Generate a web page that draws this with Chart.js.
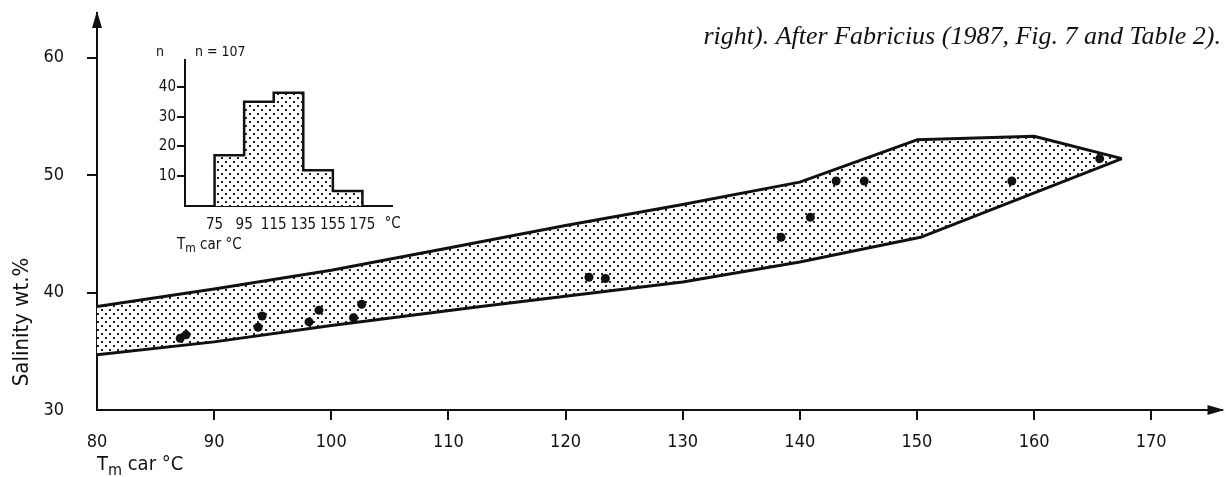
<!DOCTYPE html>
<html>
<head>
<meta charset="utf-8">
<script src="https://cdn.jsdelivr.net/npm/chart.js@4.4.1/dist/chart.umd.min.js"></script>
<style>
  body { margin: 0; background: #fff; }
  #wrap { position: relative; width: 1226px; height: 477px; }
  #main { position: absolute; left: 0; top: 0; }
  #inset { position: absolute; left: 120px; top: 40px; }
</style>
</head>
<body>
<div id="wrap">
  <canvas id="main" width="1226" height="477"></canvas>
  <canvas id="inset" width="290" height="215"></canvas>
</div>
<script>
// main plot: salinity vs Tm car
const xTicks = [80, 90, 100, 110, 120, 130, 140, 150, 160, 170];
const yTicks = [30, 40, 50, 60];

// outline of the stippled field
const upperT = [80, 90, 100, 110, 120, 130, 140, 150, 160, 167.5];
const upperS = [38.8, 40.3, 41.9, 43.8, 45.7, 47.5, 49.4, 53.0, 53.3, 51.4];
const lowerT = [80, 90, 100, 112.6, 130, 140, 150.3, 167.5];
const lowerS = [34.7, 35.8, 37.2, 38.8, 40.9, 42.6, 44.7, 51.4];

// measured inclusions
const sampleT = [87.1, 87.6, 93.75, 94.1, 98.1, 98.95, 101.9, 102.6, 122.0, 123.4, 138.4, 140.9, 143.1, 145.5, 158.1, 165.6];
const sampleS = [36.1, 36.4, 37.05, 38.0, 37.5, 38.5, 37.85, 39.0, 41.3, 41.2, 44.7, 46.4, 49.5, 49.5, 49.5, 51.4];

// inset histogram
const binEdges = [75, 95, 115, 135, 155, 175];
const binCounts = [17, 35, 38, 12, 5];
const insetTicksY = [10, 20, 30, 40];

const FONT = "'DejaVu Sans Condensed', 'DejaVu Sans', sans-serif";
const ink = '#111';

function dots() {
    const c = document.createElement('canvas');
    c.width = 8; c.height = 8;
    const g = c.getContext('2d');
    g.fillStyle = '#fff';
    g.fillRect(0, 0, 8, 8);
    g.fillStyle = '#222';
    g.fillRect(1, 1, 2, 2);
    g.fillRect(5, 5, 2, 2);
    return g.createPattern(c, 'repeat');
}

function pts(xs, ys) {
    return xs.map((x, i) => ({ x: x, y: ys[i] }));
}

// "Tm car °C" with subscript m
function tmLabel(ctx, x, y, size) {
    ctx.textAlign = 'left';
    ctx.textBaseline = 'middle';
    ctx.font = size + 'px ' + FONT;
    ctx.fillText('T', x, y);
    let w = ctx.measureText('T').width;
    ctx.font = Math.round(size * 0.8) + 'px ' + FONT;
    ctx.fillText('m', x + w, y + size * 0.28);
    w += ctx.measureText('m').width;
    ctx.font = size + 'px ' + FONT;
    ctx.fillText(' car °C', x + w, y);
}

// keep the plot box where the axes are, no label overhang padding
function noOverhang(s) {
    s.paddingTop = 0; s.paddingBottom = 0;
    s.paddingLeft = 0; s.paddingRight = 0;
}

const mainDecor = {
    id: 'mainDecor',
    afterDraw(chart) {
        const { ctx, chartArea: a } = chart;
        ctx.save();
        ctx.fillStyle = ink;
        // axis arrows
        ctx.beginPath();
        ctx.moveTo(a.left, a.top - 2);
        ctx.lineTo(a.left - 5, a.top + 15);
        ctx.lineTo(a.left + 5, a.top + 15);
        ctx.closePath();
        ctx.fill();
        ctx.beginPath();
        ctx.moveTo(a.right + 3, a.bottom);
        ctx.lineTo(a.right - 14, a.bottom - 5);
        ctx.lineTo(a.right - 14, a.bottom + 5);
        ctx.closePath();
        ctx.fill();

        // y title
        ctx.save();
        ctx.translate(22, 322);
        ctx.rotate(-Math.PI / 2);
        ctx.textAlign = 'center';
        ctx.textBaseline = 'middle';
        ctx.font = '22px ' + FONT;
        ctx.fillText('Salinity wt.%', 0, 0);
        ctx.restore();

        // x title
        tmLabel(ctx, 97, 465, 20);

        // caption
        ctx.font = "italic 26px 'Liberation Serif', serif";
        ctx.textAlign = 'right';
        ctx.textBaseline = 'middle';
        ctx.fillText('right). After Fabricius (1987, Fig. 7 and Table 2).', 1221, 37);
        ctx.restore();
    }
};

const pattern = dots();

new Chart(document.getElementById('main'), {
    type: 'scatter',
    data: {
        datasets: [
            {
                data: pts(sampleT, sampleS),
                pointRadius: 4.5,
                pointBackgroundColor: ink,
                pointBorderWidth: 0,
                showLine: false
            },
            {
                data: pts(upperT, upperS),
                showLine: true,
                borderColor: ink,
                borderWidth: 3,
                borderJoinStyle: 'round',
                pointRadius: 0,
                tension: 0,
                fill: '+1',
                backgroundColor: pattern
            },
            {
                data: pts(lowerT, lowerS),
                showLine: true,
                borderColor: ink,
                borderWidth: 3,
                borderJoinStyle: 'round',
                pointRadius: 0,
                tension: 0,
                fill: false
            }
        ]
    },
    options: {
        responsive: false,
        animation: false,
        layout: { padding: { top: 13, right: 4, left: 0, bottom: 0 } },
        plugins: {
            legend: { display: false },
            tooltip: { enabled: false },
            filler: { drawTime: 'beforeDatasetsDraw' }
        },
        scales: {
            x: {
                type: 'linear',
                min: 80,
                max: 176,
                border: { display: true, color: ink, width: 2 },
                grid: {
                    drawOnChartArea: false,
                    tickLength: 10,
                    lineWidth: 2,
                    color: c => (c.tick && c.tick.value === 80 ? 'rgba(0,0,0,0)' : ink)
                },
                ticks: { color: ink, font: { family: FONT, size: 18 }, padding: 12, maxRotation: 0 },
                afterBuildTicks: s => { s.ticks = xTicks.map(v => ({ value: v })); },
                afterFit: s => { s.height = 67; noOverhang(s); }
            },
            y: {
                type: 'linear',
                min: 30,
                max: 63.8,
                border: { display: true, color: ink, width: 2 },
                grid: {
                    drawOnChartArea: false,
                    tickLength: 10,
                    lineWidth: 2,
                    color: c => (c.tick && c.tick.value === 30 ? 'rgba(0,0,0,0)' : ink)
                },
                ticks: { color: ink, font: { family: FONT, size: 18 }, padding: 23 },
                afterBuildTicks: s => { s.ticks = yTicks.map(v => ({ value: v })); },
                afterFit: s => { s.width = 97; noOverhang(s); }
            }
        }
    },
    plugins: [mainDecor]
});

// inset: histogram of Tm car
const histPoints = [{ x: binEdges[0], y: 0 }].concat(
    binEdges.map((e, i) => ({ x: e, y: i < binCounts.length ? binCounts[i] : 0 }))
);
const total = binCounts.reduce((s, v) => s + v, 0);

const insetDecor = {
    id: 'insetDecor',
    afterDraw(chart) {
        const { ctx, scales } = chart;
        ctx.save();
        ctx.fillStyle = ink;
        ctx.textBaseline = 'middle';
        ctx.font = '14px ' + FONT;
        ctx.textAlign = 'center';
        ctx.fillText('n', 40, 12);
        ctx.textAlign = 'left';
        ctx.fillText('n = ' + total, 75, 12);
        ctx.font = '15px ' + FONT;
        ctx.fillText('°C', scales.x.getPixelForValue(175) + 22, 184);
        tmLabel(ctx, 57, 205, 15);
        ctx.restore();
    }
};

new Chart(document.getElementById('inset'), {
    type: 'scatter',
    data: {
        datasets: [{
            data: histPoints,
            showLine: true,
            stepped: 'before',
            borderColor: ink,
            borderWidth: 2.5,
            pointRadius: 0,
            fill: 'origin',
            backgroundColor: pattern
        }]
    },
    options: {
        responsive: false,
        animation: false,
        layout: { padding: { top: 20, right: 18, left: 0, bottom: 0 } },
        plugins: { legend: { display: false }, tooltip: { enabled: false } },
        scales: {
            x: {
                type: 'linear',
                min: 55,
                max: 195,
                border: { display: true, color: ink, width: 2 },
                grid: { display: false, drawTicks: false },
                ticks: { color: ink, font: { family: FONT, size: 15 }, padding: 10, maxRotation: 0 },
                afterBuildTicks: s => { s.ticks = binEdges.map(v => ({ value: v })); },
                afterFit: s => { s.height = 49; noOverhang(s); }
            },
            y: {
                type: 'linear',
                min: 0,
                max: 49,
                border: { display: true, color: ink, width: 2 },
                grid: { drawOnChartArea: false, tickLength: 8, lineWidth: 2, color: ink },
                ticks: { color: ink, font: { family: FONT, size: 15 }, padding: 1 },
                afterBuildTicks: s => { s.ticks = insetTicksY.map(v => ({ value: v })); },
                afterFit: s => { s.width = 65; noOverhang(s); }
            }
        }
    },
    plugins: [insetDecor]
});
</script>
</body>
</html>
